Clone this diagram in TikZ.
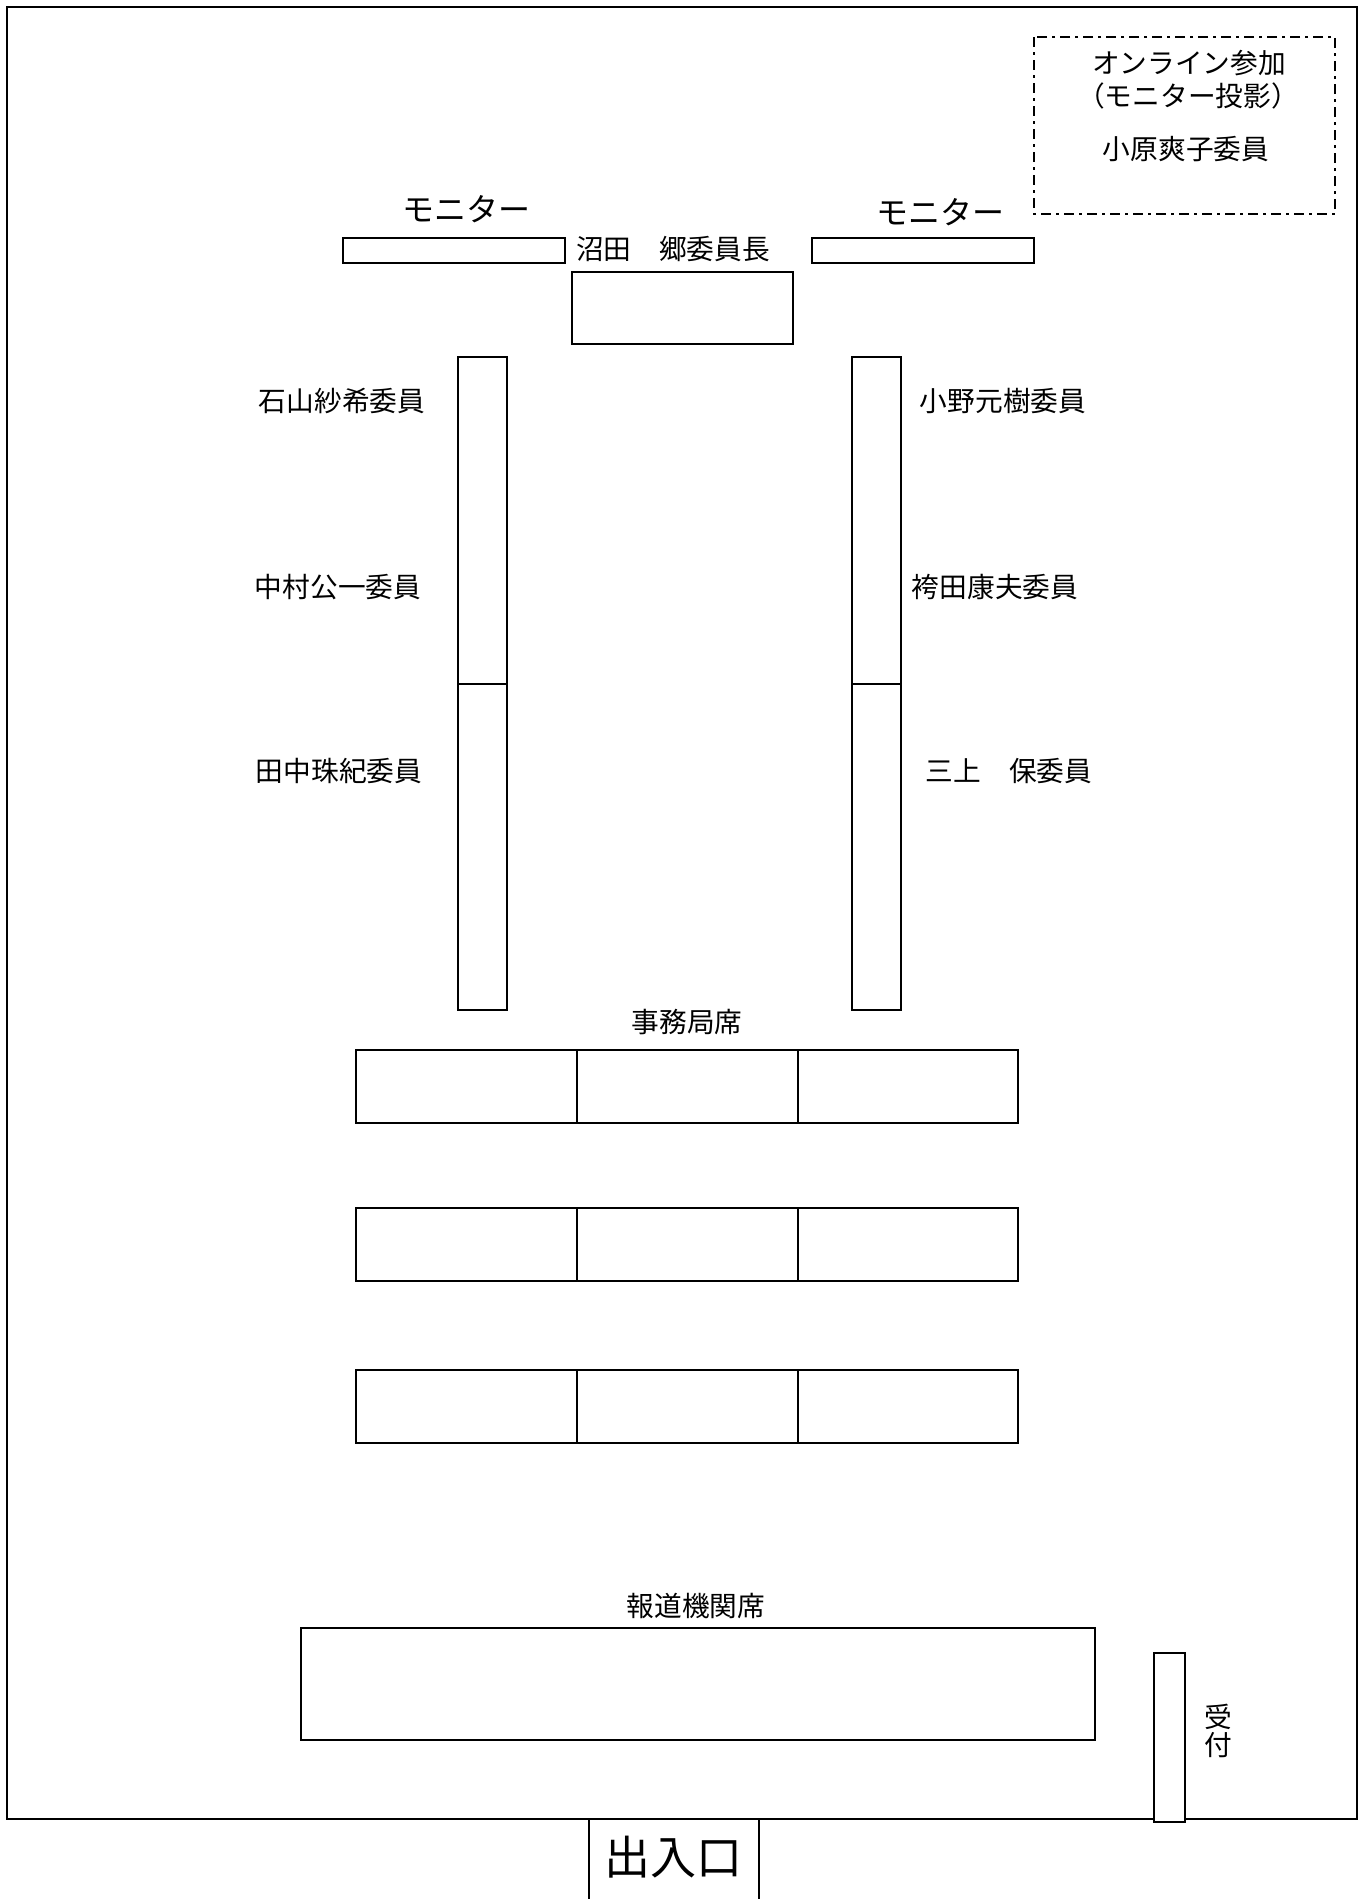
\documentclass[tikz,border=0pt]{standalone}
\usepackage{fontspec}
\newfontfamily\jp{Noto Sans CJK JP}
\begin{document}
\begin{tikzpicture}[x=1pt,y=-1pt,
  tbl/.style={draw=black,line width=2pt,fill=white},
  wall/.style={draw=black,line width=1.8pt},
  lbl/.style={inner sep=0pt,anchor=center,font=\jp\fontsize{27.7}{33}\selectfont},
  mon/.style={inner sep=0pt,anchor=center,font=\jp\fontsize{32}{36}\selectfont},
  big/.style={inner sep=0pt,anchor=center,font=\jp\fontsize{46}{52}\selectfont},
  online/.style={draw=black,line width=1.8pt,dash pattern=on 10pt off 5pt on 3pt off 5pt}]
\useasboundingbox (0,0) rectangle (1365,1899);
\fill[white] (0,0) rectangle (1365,1899);
% room
\draw[wall] (7,7) rectangle (1357,1819);
% online box
\draw[online] (1034,37) rectangle (1335,214);
\node[lbl] (on1) at (1189,63) {オンライン参加};
\node[lbl] (on2) at (1188,96) {（モニター投影）};
\node[lbl] (on3) at (1186,149) {小原爽子委員};
% monitors
\node[mon] (monL) at (466,209) {モニター};
\node[mon] (monR) at (940,212) {モニター};
\draw[tbl] (343,238) rectangle (565,263);
\draw[tbl] (812,238) rectangle (1034,263);
% chair
\node[lbl] (chair) at (673,249) {沼田　郷委員長};
\draw[tbl] (572,272) rectangle (793,344);
% side tables
\draw[tbl] (458,357) rectangle (507,1010);
\draw[tbl] (458,684) -- (507,684);
\draw[tbl] (852,357) rectangle (901,1010);
\draw[tbl] (852,684) -- (901,684);
\node[lbl] (m1) at (342,401) {石山紗希委員};
\node[lbl] (m2) at (338,587) {中村公一委員};
\node[lbl] (m3) at (339,771) {田中珠紀委員};
\node[lbl] (m4) at (1003,401) {小野元樹委員};
\node[lbl] (m5) at (995,587) {袴田康夫委員};
\node[lbl] (m6) at (1009,771) {三上　保委員};
% secretariat
\node[lbl] (sec) at (687,1022) {事務局席};
\foreach \ya/\yb in {1050/1123,1208/1281,1370/1443}{
  \draw[tbl] (356,\ya) rectangle (1018,\yb);
  \draw[tbl] (577,\ya) -- (577,\yb);
  \draw[tbl] (798,\ya) -- (798,\yb);
}
% press
\node[lbl] (press) at (696,1606) {報道機関席};
\draw[tbl] (301,1628) rectangle (1095,1740);
% reception
\draw[tbl] (1154,1653) rectangle (1185,1822);
\node[lbl] (rc1) at (1218,1717) {受};
\node[lbl] (rc2) at (1218,1745) {付};
% door
\draw[black,line width=1.3pt] (589,1899) -- (589,1819) -- (759,1819) -- (759,1899);
\node[big] (door) at (673,1857) {出入口};
\end{tikzpicture}
\end{document}
